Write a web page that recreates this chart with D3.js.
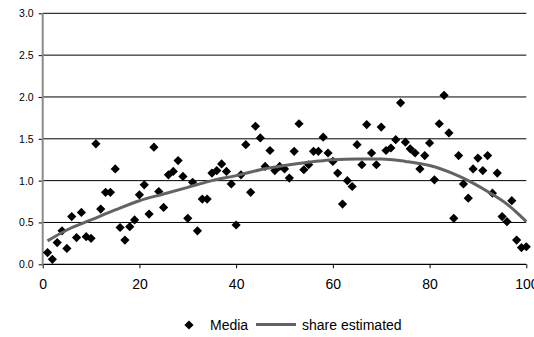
<!DOCTYPE html>
<html>
<head>
<meta charset="utf-8">
<script src="https://cdn.jsdelivr.net/npm/d3@7"></script>
<style>
  html, body { margin: 0; padding: 0; background: #fff; }
  svg { display: block; font-family: "Liberation Sans", Arial, Helvetica, sans-serif; }
</style>
</head>
<body>
<svg id="chart" width="534" height="337"></svg>
<script>
// Observed "Media" values, one per position 1..100
const mediaValues = [
  0.14, 0.06, 0.26, 0.40, 0.19, 0.57, 0.32, 0.62, 0.33, 0.31,
  1.44, 0.66, 0.86, 0.86, 1.14, 0.44, 0.29, 0.45, 0.53, 0.83,
  0.95, 0.60, 1.40, 0.87, 0.68, 1.07, 1.11, 1.24, 1.05, 0.55,
  0.98, 0.40, 0.78, 0.78, 1.09, 1.12, 1.20, 1.11, 0.96, 0.47,
  1.07, 1.43, 0.86, 1.65, 1.51, 1.17, 1.36, 1.12, 1.17, 1.14,
  1.03, 1.35, 1.68, 1.13, 1.19, 1.35, 1.35, 1.52, 1.33, 1.23,
  1.09, 0.72, 1.00, 0.93, 1.43, 1.19, 1.67, 1.33, 1.19, 1.64,
  1.36, 1.39, 1.49, 1.93, 1.46, 1.38, 1.33, 1.14, 1.30, 1.45,
  1.01, 1.68, 2.02, 1.57, 0.55, 1.30, 0.96, 0.79, 1.14, 1.27,
  1.12, 1.30, 0.85, 1.09, 0.57, 0.51, 0.76, 0.29, 0.20, 0.21
];

// "share estimated" curve, sampled positions and values
const shareX = [1, 5, 10, 15, 20, 25, 30, 35, 40, 45, 50, 55, 60, 65, 70, 75, 80, 85, 88, 92, 96, 98, 100];
const shareY = [0.28, 0.41, 0.53, 0.65, 0.76, 0.84, 0.92, 1.00, 1.06, 1.13, 1.18, 1.22, 1.25, 1.26, 1.26, 1.23, 1.18, 1.08, 1.00, 0.87, 0.72, 0.62, 0.51];

const xTicks = [0, 20, 40, 60, 80, 100];
const yTicks = [0.0, 0.5, 1.0, 1.5, 2.0, 2.5, 3.0];

const seriesNames = ["Media", "share estimated"];

const svg = d3.select("#chart");

const x = d3.scaleLinear().domain([0, 100]).range([42.7, 526.3]);
const y = d3.scaleLinear().domain([0, 3]).range([264.3, 13.3]);

// horizontal gridlines
svg.append("g")
  .selectAll("line")
  .data(yTicks.filter(d => d > 0))
  .join("line")
  .attr("x1", x(0)).attr("x2", x(100))
  .attr("y1", d => y(d)).attr("y2", d => y(d))
  .attr("stroke", "#000").attr("stroke-width", 1);

// y axis
const yAxis = d3.axisLeft(y)
  .tickValues(yTicks)
  .tickFormat(d3.format(".1f"))
  .tickSize(4)
  .tickPadding(5);
const gy = svg.append("g").attr("transform", `translate(${x(0)},0)`).call(yAxis);
gy.select(".domain").remove();
gy.selectAll(".tick line").attr("stroke", "#000");
gy.selectAll(".tick text")
  .attr("font-size", "10.5px")
  .attr("fill", "#000")
  .style("font-family", "'Liberation Sans', Arial, sans-serif");

// x axis
const xAxis = d3.axisBottom(x)
  .tickValues(xTicks)
  .tickFormat(d3.format("d"))
  .tickSize(4)
  .tickPadding(11);
const gx = svg.append("g").attr("transform", `translate(0,${y(0)})`).call(xAxis);
gx.select(".domain").attr("stroke", "#000").attr("stroke-width", 1.2)
  .attr("d", `M${x(0)},0H${x(100)}`);
gx.selectAll(".tick line").attr("stroke", "#000");
gx.selectAll(".tick text")
  .attr("font-size", "14px")
  .attr("fill", "#000")
  .style("font-family", "'Liberation Sans', Arial, sans-serif");

// left axis line (grey)
svg.append("line")
  .attr("x1", x(0)).attr("x2", x(0))
  .attr("y1", y(3)).attr("y2", y(0) + 0.5)
  .attr("stroke", "#8a8a8a").attr("stroke-width", 2);

// diamond marker path
const diamond = r => `M0,${-r}L${r},0L0,${r}L${-r},0Z`;

// scatter points
svg.append("g")
  .selectAll("path")
  .data(mediaValues)
  .join("path")
  .attr("transform", (d, i) => `translate(${x(i + 1)},${y(d)})`)
  .attr("d", diamond(4.6))
  .attr("fill", "#000");

// estimated share curve
const shareData = shareX.map((v, i) => [v, shareY[i]]);
svg.append("path")
  .datum(shareData)
  .attr("fill", "none")
  .attr("stroke", "#636363")
  .attr("stroke-width", 3)
  .attr("d", d3.line().x(d => x(d[0])).y(d => y(d[1])).curve(d3.curveMonotoneX));

// legend
const legend = svg.append("g");
legend.append("path")
  .attr("transform", "translate(189,325)")
  .attr("d", diamond(4.6))
  .attr("fill", "#000");
legend.append("text")
  .attr("x", 210).attr("y", 330)
  .attr("font-size", "14px")
  .text(seriesNames[0]);
legend.append("line")
  .attr("x1", 256).attr("x2", 296)
  .attr("y1", 324.5).attr("y2", 324.5)
  .attr("stroke", "#636363").attr("stroke-width", 3);
legend.append("text")
  .attr("x", 302).attr("y", 330)
  .attr("font-size", "14px")
  .text(seriesNames[1]);
</script>
</body>
</html>
